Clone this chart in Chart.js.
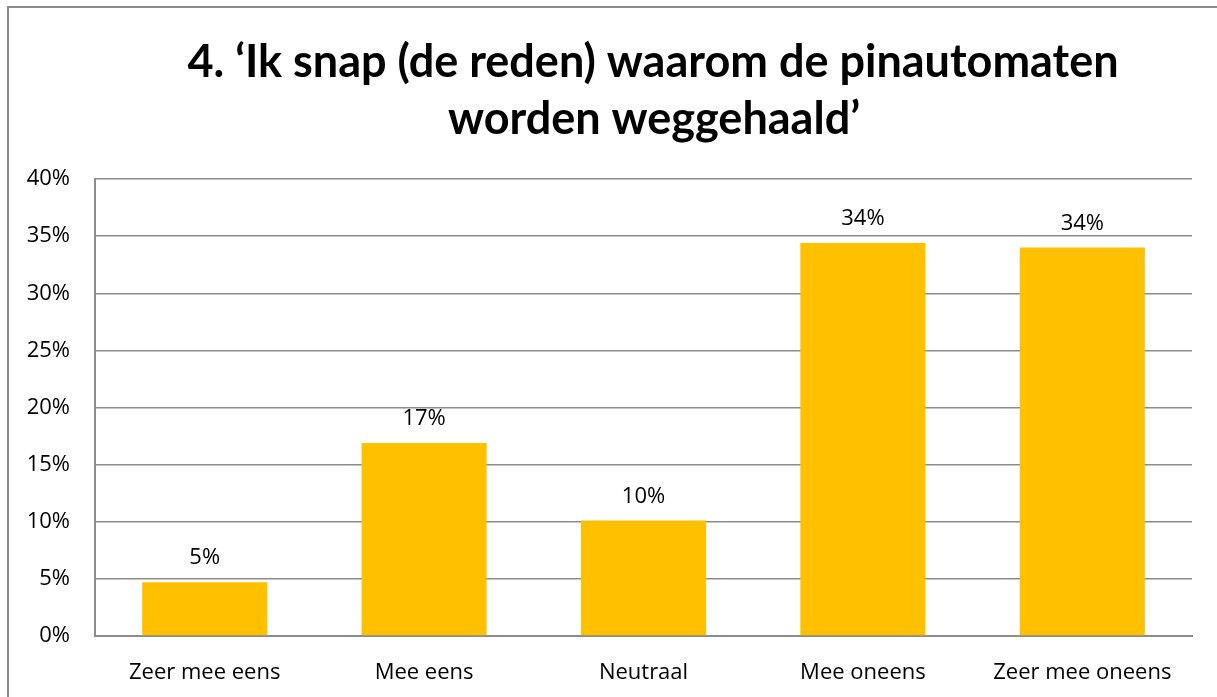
<!DOCTYPE html>
<html><head><meta charset="utf-8">
<script src="https://cdn.jsdelivr.net/npm/chart.js@4/dist/chart.umd.min.js"></script>
<style>
html,body{margin:0;padding:0;background:#fff;}
#wrap{position:absolute;left:0;top:0;width:1217px;height:697px;}
#frame{position:absolute;left:7px;top:6px;width:1220px;height:700px;border-left:2px solid #8c8c8c;border-top:2px solid #8c8c8c;box-sizing:border-box;pointer-events:none;}
</style></head>
<body>
<div id="wrap"><canvas id="c" width="1217" height="697"></canvas><div id="frame"></div></div>
<script>
const categories = ['Zeer mee eens','Mee eens','Neutraal','Mee oneens','Zeer mee oneens'];
const values = [4.7, 16.9, 10.1, 34.4, 34.0];
const valueLabels = ['5%','17%','10%','34%','34%'];
const titleLines = ['4. \u2018Ik snap (de reden) waarom de pinautomaten','worden weggehaald\u2019'];
const FONT = '"Open Sans", Lato, sans-serif';
const TFONT = 'Lato, "Open Sans", sans-serif';
const FS = 22;

const titlePlugin = {
  id:'customTitle',
  afterDraw(chart){
    const ctx = chart.ctx;
    ctx.save();
    ctx.font = 'bold 45px ' + TFONT;
    ctx.fillStyle = '#000';
    ctx.textAlign = 'center';
    ctx.textBaseline = 'alphabetic';
    ctx.fillText(titleLines[0], 653, 77);
    ctx.fillText(titleLines[1], 654, 134);
    ctx.restore();
  }
};

const labelPlugin = {
  id:'barLabels',
  afterDatasetsDraw(chart){
    const ctx = chart.ctx;
    const meta = chart.getDatasetMeta(0);
    ctx.save();
    ctx.font = FS + 'px ' + FONT;
    ctx.fillStyle = '#000';
    ctx.textAlign = 'center';
    ctx.textBaseline = 'alphabetic';
    meta.data.forEach((bar,i)=>{
      ctx.fillText(valueLabels[i], bar.x, bar.y - 18);
    });
    ctx.restore();
  }
};

new Chart(document.getElementById('c'), {
  type:'bar',
  data:{labels:categories,datasets:[{data:values,backgroundColor:'#FFC000',barPercentage:0.57,categoryPercentage:1}]},
  options:{
    responsive:false,animation:false,
    layout:{padding:{left:0,right:25,top:179,bottom:0}},
    plugins:{legend:{display:false},tooltip:{enabled:false},title:{display:false}},
    scales:{
      x:{grid:{display:false},border:{color:'#8c8c8c',width:2},ticks:{color:'#000',font:{family:FONT,size:FS},padding:16,maxRotation:0},
         afterFit(s){s.height=61;}},
      y:{min:0,max:40,ticks:{stepSize:5,color:'#000',font:{family:FONT,size:FS},padding:25,labelOffset:0,callback:v=>v+'%'},
         grid:{color:'#8c8c8c',lineWidth:1.5,drawTicks:false},border:{color:'#8c8c8c',width:2},
         afterFit(s){s.width=95;}}
    }
  },
  plugins:[labelPlugin,titlePlugin]
});
</script>
</body></html>
